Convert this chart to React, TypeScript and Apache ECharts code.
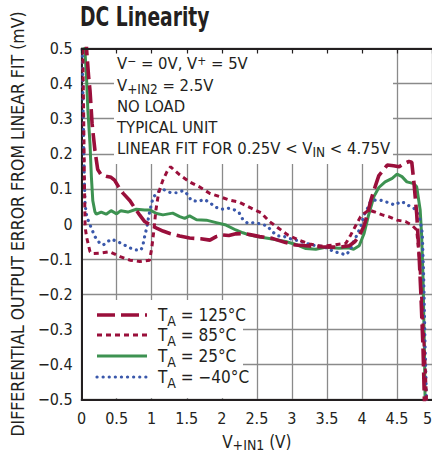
import React, { useEffect, useRef } from 'react';
import * as echarts from 'echarts';

const FONT = '"Liberation Sans Narrow", "DejaVu Sans Condensed", "Roboto Condensed", "Liberation Sans", sans-serif';
const INK = '#231f20';
const RED = '#9a0f3b';
const GREEN = '#3d9251';
const BLUE = '#3a58ab';
const GRIDC = '#8a8a8a';

const TITLE = 'DC Linearity';
const Y_NAME = 'DIFFERENTIAL OUTPUT ERROR FROM LINEAR FIT (mV)';
const X_MIN = 0, X_MAX = 5, X_STEP = 0.5;
const Y_MIN = -0.5, Y_MAX = 0.5, Y_STEP = 0.1;

const NOTE_LINES = [
  'V{sup|−} = 0V, V{sup|+} = 5V',
  'V{sub|+IN2} = 2.5V',
  'NO LOAD',
  'TYPICAL UNIT',
  'LINEAR FIT FOR 0.25V < V{sub|IN} < 4.75V',
];

// TA = 125°C
const t125: number[][] = [
  [0.05, 0.6], [0.07, 0.5], [0.10, 0.42], [0.12, 0.38], [0.15, 0.285], [0.19, 0.21], [0.23, 0.155],
  [0.28, 0.14], [0.35, 0.136], [0.42, 0.133], [0.47, 0.125], [0.53, 0.105], [0.59, 0.088], [0.69, 0.066],
  [0.76, 0.045], [0.83, 0.025], [0.9, 0.007], [1.0, -0.005], [1.07, -0.012], [1.16, -0.02], [1.26, -0.027],
  [1.4, -0.034], [1.54, -0.04], [1.7, -0.042], [1.83, -0.046], [1.92, -0.036], [2.0, -0.031], [2.1, -0.033],
  [2.2, -0.028], [2.32, -0.027], [2.42, -0.031], [2.54, -0.036], [2.72, -0.041], [2.91, -0.053], [3.05, -0.06],
  [3.2, -0.062], [3.4, -0.065], [3.58, -0.066], [3.72, -0.065], [3.82, -0.062], [3.9, -0.05], [3.97, -0.03],
  [4.03, -0.005], [4.08, 0.03], [4.13, 0.07], [4.19, 0.108], [4.24, 0.138], [4.31, 0.155], [4.36, 0.168],
  [4.45, 0.166], [4.53, 0.163], [4.6, 0.172], [4.67, 0.178], [4.71, 0.176], [4.74, 0.12], [4.78, 0.03],
  [4.81, -0.07], [4.84, -0.2], [4.87, -0.35], [4.89, -0.5], [4.9, -0.6],
];

// TA = 85°C
const t85: number[][] = [
  [0.01, 0.6], [0.02, 0.45], [0.03, 0.3], [0.04, 0.12], [0.05, -0.008], [0.07, -0.036], [0.12, -0.079],
  [0.17, -0.084], [0.26, -0.083], [0.4, -0.079], [0.55, -0.093], [0.69, -0.103], [0.83, -0.107], [0.97, -0.103],
  [1.0, -0.07], [1.03, -0.02], [1.06, 0.04], [1.1, 0.09], [1.16, 0.125], [1.22, 0.15], [1.27, 0.163],
  [1.33, 0.152], [1.4, 0.14], [1.54, 0.12], [1.68, 0.106], [1.83, 0.087], [1.97, 0.078], [2.11, 0.068],
  [2.25, 0.062], [2.42, 0.045], [2.56, 0.032], [2.68, 0.007], [2.81, -0.012], [2.94, -0.031], [3.1, -0.046],
  [3.25, -0.057], [3.41, -0.063], [3.6, -0.06], [3.77, -0.055], [3.84, -0.031], [3.93, 0.003], [3.98, 0.021],
  [4.03, 0.03], [4.1, 0.04], [4.17, 0.035], [4.29, 0.026], [4.38, 0.021], [4.5, 0.011], [4.62, 0.007],
  [4.71, -0.003], [4.78, -0.017], [4.82, -0.1], [4.86, -0.25], [4.9, -0.4], [4.92, -0.5], [4.93, -0.6],
];

// TA = 25°C
const t25: number[][] = [
  [0.03, 0.6], [0.045, 0.503], [0.07, 0.418], [0.09, 0.323], [0.12, 0.228], [0.14, 0.133], [0.16, 0.066],
  [0.19, 0.035], [0.21, 0.028], [0.28, 0.034], [0.35, 0.028], [0.42, 0.038], [0.5, 0.029], [0.56, 0.038],
  [0.66, 0.034], [0.78, 0.042], [0.9, 0.04], [0.97, 0.04], [1.07, 0.03], [1.16, 0.026], [1.3, 0.031],
  [1.4, 0.021], [1.47, 0.016], [1.54, 0.023], [1.64, 0.012], [1.78, 0.011], [1.92, 0.004], [2.06, -0.003],
  [2.2, -0.017], [2.3, -0.025], [2.39, -0.031], [2.54, -0.037], [2.72, -0.043], [2.91, -0.05], [3.08, -0.06],
  [3.2, -0.07], [3.34, -0.072], [3.48, -0.066], [3.67, -0.069], [3.81, -0.068], [3.88, -0.072], [3.96, -0.062],
  [4.03, -0.027], [4.1, 0.03], [4.17, 0.078], [4.24, 0.104], [4.33, 0.12], [4.43, 0.13], [4.5, 0.142],
  [4.57, 0.135], [4.64, 0.12], [4.74, 0.115], [4.78, 0.106], [4.83, 0.04], [4.85, -0.03], [4.87, -0.15],
  [4.89, -0.35], [4.9, -0.5], [4.905, -0.6],
];

// TA = -40°C
const tm40: number[][] = [
  [0.0, 0.6], [0.01, 0.5], [0.02, 0.35], [0.03, 0.22], [0.04, 0.12], [0.05, 0.054], [0.07, 0.026],
  [0.1, 0.007], [0.14, -0.012], [0.19, -0.036], [0.26, -0.055], [0.31, -0.06], [0.37, -0.05], [0.43, -0.043],
  [0.5, -0.05], [0.57, -0.055], [0.64, -0.063], [0.71, -0.07], [0.78, -0.074], [0.85, -0.074], [0.88, -0.055],
  [0.9, -0.035], [0.93, -0.01], [0.96, 0.025], [1.0, 0.061], [1.03, 0.078], [1.09, 0.092], [1.16, 0.099],
  [1.26, 0.09], [1.35, 0.089], [1.45, 0.095], [1.52, 0.083], [1.56, 0.068], [1.66, 0.064], [1.75, 0.07],
  [1.83, 0.061], [1.9, 0.049], [1.99, 0.042], [2.09, 0.045], [2.18, 0.04], [2.25, 0.031], [2.3, 0.013],
  [2.37, 0.002], [2.46, 0.004], [2.56, 0.0], [2.65, -0.006], [2.72, -0.022], [2.8, -0.034], [2.87, -0.034],
  [2.96, -0.041], [3.06, -0.046], [3.13, -0.05], [3.2, -0.055], [3.29, -0.06], [3.41, -0.063], [3.51, -0.069],
  [3.6, -0.079], [3.67, -0.082], [3.77, -0.088], [3.83, -0.075], [3.88, -0.05], [3.93, -0.031], [3.98, -0.008],
  [4.03, 0.026], [4.08, 0.045], [4.12, 0.064], [4.19, 0.068], [4.26, 0.068], [4.33, 0.064], [4.4, 0.059],
  [4.47, 0.054], [4.55, 0.064], [4.62, 0.059], [4.69, 0.049], [4.74, 0.045], [4.78, 0.035], [4.83, 0.011],
  [4.86, -0.027], [4.88, -0.15], [4.9, -0.35], [4.92, -0.5], [4.93, -0.6],
];

const TEMPS = ['125°C', '85°C', '25°C', '−40°C'];

const SERIES_DEFS = [
  { temp: TEMPS[2], data: t25, color: GREEN, dash: 'solid' as any, width: 3, cap: 'butt' },
  { temp: TEMPS[3], data: tm40, color: BLUE, dash: [0.1, 6], width: 3.2, cap: 'round' },
  { temp: TEMPS[1], data: t85, color: RED, dash: [5, 4], width: 3, cap: 'butt' },
  { temp: TEMPS[0], data: t125, color: RED, dash: [18, 6], width: 3.6, cap: 'butt' },
];

export default function App() {
  const ref = useRef<HTMLDivElement>(null);
  useEffect(() => {
    if (!ref.current) return;
    const chart = echarts.init(ref.current, undefined, { renderer: 'svg' });

    const gridLeft = 81.6, gridTop = 48.5, gridW = 350.5, gridH = 351;

    const subStyle = (size: number, shift: number) => ({
      fontSize: size, fontFamily: FONT, fill: INK, lineHeight: size, padding: [shift * 2, 0, 0, 0],
    });
    const supStyle = (size: number, shift: number) => ({
      fontSize: size, fontFamily: FONT, fill: INK, lineHeight: size, padding: [0, 0, shift * 2, 0],
    });

    const noteY = [63, 85, 106, 127, 148];
    const noteTexts = NOTE_LINES.map((t, i) => ({
      type: 'text', x: 117, y: noteY[i], z: 3, silent: true,
      style: {
        text: t, fill: INK, fontSize: 16.5, fontFamily: FONT, align: 'left', verticalAlign: 'middle',
        rich: { sub: subStyle(13.5, 3.5), sup: supStyle(12, 2.5) },
      },
    }));

    const legendOrder = [3, 2, 0, 1];
    const legendY = [315, 335, 356, 377];
    const legendEls: any[] = [];
    legendOrder.forEach((si, i) => {
      const d = SERIES_DEFS[si];
      legendEls.push({
        type: 'line', z: 3, silent: true,
        shape: { x1: 97, y1: legendY[i], x2: 147, y2: legendY[i] },
        style: { stroke: d.color, lineWidth: d.width, lineDash: d.dash === 'solid' ? null : d.dash, lineCap: d.cap },
      });
      legendEls.push({
        type: 'text', x: 158, y: legendY[i], z: 3, silent: true,
        style: {
          text: 'T{sub|A} = ' + d.temp, fill: INK, fontSize: 17, fontFamily: FONT, align: 'left', verticalAlign: 'middle',
          rich: { sub: subStyle(14, 5.5) },
        },
      });
    });

    const fmtY = (v: number) => {
      const r = Math.round(v * 10) / 10;
      if (r === 0) return '0';
      return (r < 0 ? '−' : '') + Math.abs(r).toFixed(1);
    };

    chart.setOption({
      animation: false,
      backgroundColor: '#ffffff',
      grid: { left: gridLeft, top: gridTop, width: gridW, height: gridH, outerBoundsMode: 'none', containLabel: false },
      xAxis: [
        {
          type: 'value', min: X_MIN, max: X_MAX, interval: X_STEP, position: 'bottom',
          axisLine: { onZero: false, lineStyle: { color: INK, width: 2 } },
          axisTick: { show: false },
          splitLine: { show: true, lineStyle: { color: GRIDC, width: 1.3 } },
          axisLabel: {
            color: INK, fontFamily: FONT, fontSize: 16, margin: 11, showMaxLabel: true, showMinLabel: true,
            alignMaxLabel: 'right',
          },
          name: '{n|V}{s|+IN1}{n| (V)}', nameLocation: 'middle', nameGap: 31,
          nameTextStyle: {
            rich: {
              n: { fontFamily: FONT, fontSize: 17, color: INK, lineHeight: 17 },
              s: { fontFamily: FONT, fontSize: 14, color: INK, lineHeight: 14, padding: [7, 0, 0, 0] },
            },
          },
        },
        {
          type: 'value', min: X_MIN, max: X_MAX, interval: X_STEP, position: 'top', z: 5,
          axisLine: { onZero: false, lineStyle: { color: INK, width: 2 } },
          axisTick: { show: true, inside: true, length: 5, lineStyle: { color: INK, width: 1.2 } },
          splitLine: { show: false }, axisLabel: { show: false },
        },
      ],
      yAxis: {
        type: 'value', min: Y_MIN, max: Y_MAX, interval: Y_STEP,
        axisLine: { show: true, onZero: false, lineStyle: { color: INK, width: 2 } },
        axisTick: { show: false },
        splitLine: { show: true, lineStyle: { color: GRIDC, width: 1.3 } },
        axisLabel: { color: INK, fontFamily: FONT, fontSize: 16, margin: 9, formatter: fmtY },
        name: Y_NAME, nameLocation: 'middle', nameGap: 49,
        nameTextStyle: { fontFamily: FONT, fontSize: 17.5, color: INK },
      },
      series: SERIES_DEFS.map((d) => ({
        type: 'line', name: 'TA = ' + d.temp, data: d.data, showSymbol: false, symbol: 'none',
        clip: true, smooth: false, z: 2,
        lineStyle: { color: d.color, width: d.width, type: d.dash, cap: d.cap },
      })),
      graphic: [
        {
          type: 'text', x: 80, y: 17, z: 3, silent: true, scaleX: 0.8,
          style: { text: TITLE, fill: INK, fontSize: 26, fontWeight: 'bold', fontFamily: FONT, align: 'left', verticalAlign: 'middle' },
        },
        { type: 'rect', z: 1, silent: true, shape: { x: 114, y: 50.5, width: 279, height: 113.5 }, style: { fill: '#ffffff' } },
        { type: 'rect', z: 1, silent: true, shape: { x: 83, y: 300, width: 160, height: 98 }, style: { fill: '#ffffff' } },
        ...noteTexts,
        ...legendEls,
      ],
    });
    return () => chart.dispose();
  }, []);
  return <div ref={ref} style={{ position: 'fixed', left: 0, top: 0, width: 432, height: 454 }} />;
}
